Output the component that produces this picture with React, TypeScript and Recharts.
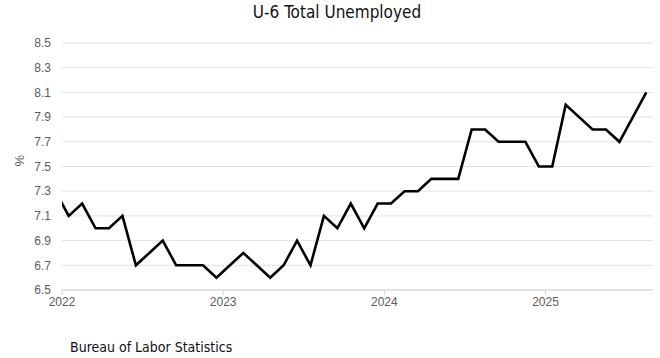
import { CartesianGrid, Label, Line, LineChart, XAxis, YAxis } from "recharts";

// monthly U-6 rate; Dec 2021 is only there so the line enters from the left edge
const months = [
  "2021-12",
  "2022-01", "2022-02", "2022-03", "2022-04", "2022-05", "2022-06",
  "2022-07", "2022-08", "2022-09", "2022-10", "2022-11", "2022-12",
  "2023-01", "2023-02", "2023-03", "2023-04", "2023-05", "2023-06",
  "2023-07", "2023-08", "2023-09", "2023-10", "2023-11", "2023-12",
  "2024-01", "2024-02", "2024-03", "2024-04", "2024-05", "2024-06",
  "2024-07", "2024-08", "2024-09", "2024-10", "2024-11", "2024-12",
  "2025-01", "2025-02", "2025-03", "2025-04", "2025-05", "2025-06",
  "2025-07", "2025-08",
];

const u6 = [
  7.3,
  7.1, 7.2, 7.0, 7.0, 7.1, 6.7, 6.8, 6.9, 6.7, 6.7, 6.7, 6.6,
  6.7, 6.8, 6.7, 6.6, 6.7, 6.9, 6.7, 7.1, 7.0, 7.2, 7.0, 7.2,
  7.2, 7.3, 7.3, 7.4, 7.4, 7.4, 7.8, 7.8, 7.7, 7.7, 7.7, 7.5,
  7.5, 8.0, 7.9, 7.8, 7.8, 7.7, 7.9, 8.1,
];

const yearTicks = [0, 12, 24, 36];
const yearLabels = ["2022", "2023", "2024", "2025"];
const yTicks = [6.5, 6.7, 6.9, 7.1, 7.3, 7.5, 7.7, 7.9, 8.1, 8.3, 8.5];

// x = months since Jan 1 2022, plotted mid-month
const data = months.map((m, i) => ({ month: m, x: i - 0.5, value: u6[i] }));

const TICK_FONT = "'Liberation Sans', Arial, sans-serif";
const HEAD_FONT = "'DejaVu Sans', sans-serif";

export default function App() {
  return (
    <div
      style={{
        position: "absolute",
        top: 0,
        left: 0,
        width: 660,
        height: 358,
        background: "#fff",
      }}
    >
      <div
        style={{
          position: "absolute",
          top: 3,
          left: 14,
          width: 646,
          textAlign: "center",
          fontFamily: HEAD_FONT,
          fontStretch: "condensed",
          fontSize: 17,
          lineHeight: "18px",
          color: "#111",
        }}
      >
        U-6 Total Unemployed
      </div>

      <div style={{ position: "absolute", top: 0, left: 0 }}>
        <LineChart
          width={660}
          height={358}
          data={data}
          margin={{ top: 43, right: 7, left: 0, bottom: 38 }}
        >
          <CartesianGrid vertical={false} stroke="#e2e2e2" />
          <XAxis
            type="number"
            dataKey="x"
            domain={[0, 44]}
            allowDataOverflow
            ticks={yearTicks}
            tickFormatter={(v) => yearLabels[yearTicks.indexOf(v)] ?? ""}
            axisLine={{ stroke: "#d6d6d6" }}
            tickLine={{ stroke: "#d6d6d6" }}
            tickSize={5}
            tick={{ fill: "#5a5a5a", fontSize: 12, fontFamily: TICK_FONT }}
            height={30}
          />
          <YAxis
            type="number"
            domain={[6.5, 8.5]}
            ticks={yTicks}
            tickFormatter={(v) => v.toFixed(1)}
            axisLine={false}
            tickLine={false}
            tickSize={0}
            tickMargin={11}
            width={62}
            tick={{ fill: "#5a5a5a", fontSize: 12, fontFamily: TICK_FONT }}
          >
            <Label
              value="%"
              angle={-90}
              position="insideLeft"
              offset={19}
              style={{ fill: "#5a5a5a", fontSize: 13, fontFamily: TICK_FONT }}
            />
          </YAxis>
          <Line
            type="linear"
            dataKey="value"
            stroke="#000"
            strokeWidth={2.6}
            dot={false}
            activeDot={false}
            isAnimationActive={false}
          />
        </LineChart>
      </div>

      <div
        style={{
          position: "absolute",
          top: 339,
          left: 70,
          fontFamily: HEAD_FONT,
          fontStretch: "condensed",
          fontSize: 14,
          lineHeight: "16px",
          color: "#111",
        }}
      >
        Bureau of Labor Statistics
      </div>
    </div>
  );
}
